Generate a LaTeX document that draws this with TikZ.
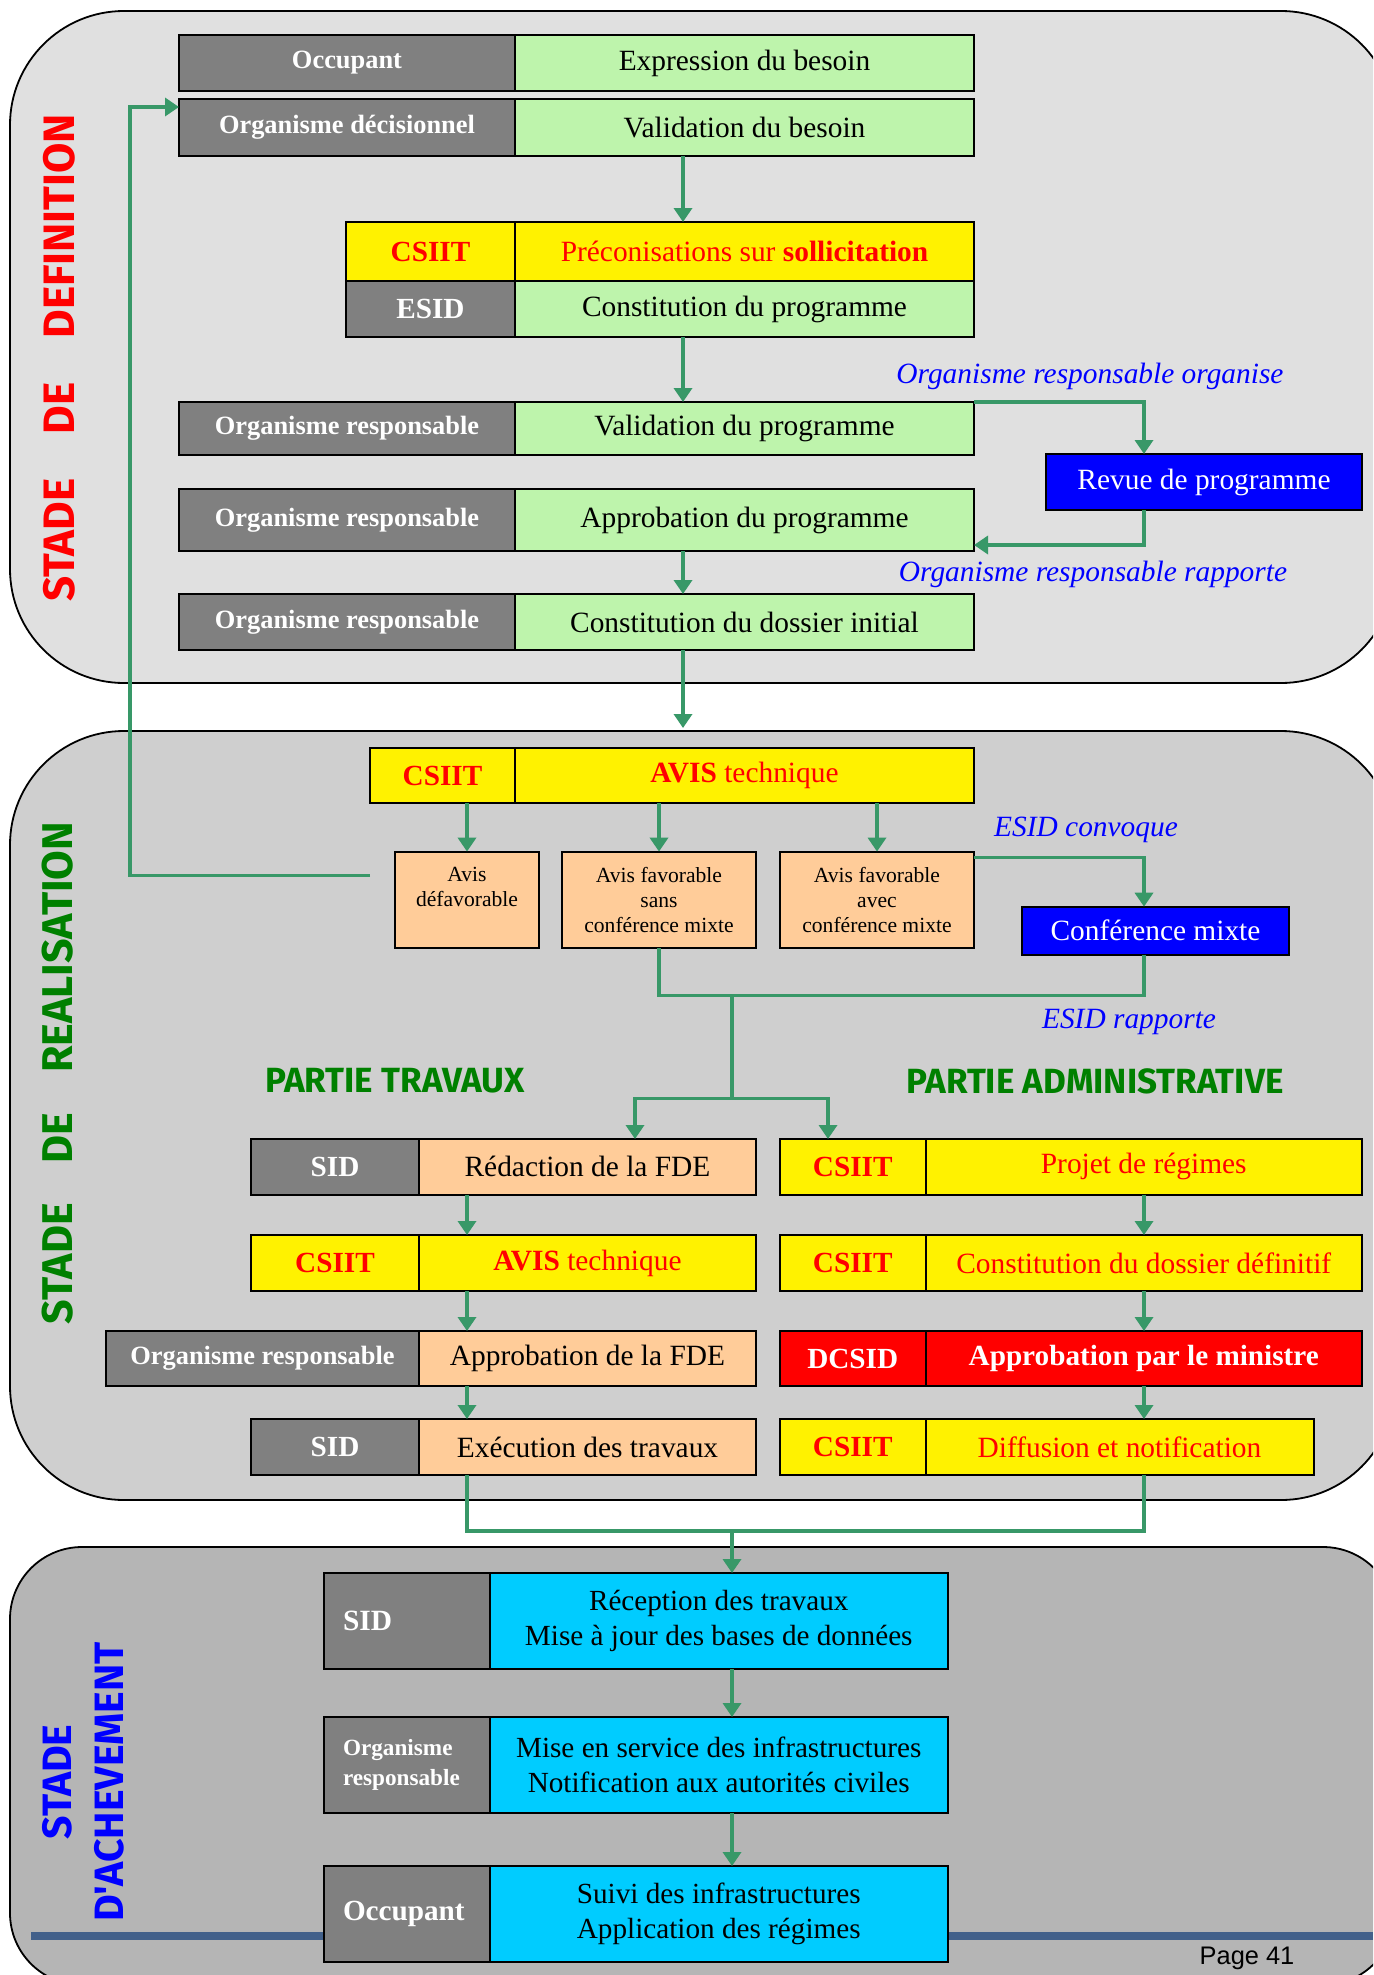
\documentclass[tikz,border=0pt]{standalone}
\usepackage{fontspec}
\setmainfont{Liberation Serif}
\newfontfamily\comic{Fira Sans}
\newfontfamily\arial{Liberation Sans}
\usepackage{xcolor}
\usepackage{tikz}
\usetikzlibrary{arrows.meta}
\usetikzlibrary{calc}
\usetikzlibrary{positioning}
\definecolor{panelA}{RGB}{224,224,224}
\definecolor{panelB}{RGB}{207,207,207}
\definecolor{panelC}{RGB}{181,181,181}
\definecolor{boxgray}{RGB}{128,128,128}
\definecolor{lgreen}{RGB}{190,244,172}
\definecolor{peach}{RGB}{255,204,153}
\definecolor{cyanbox}{RGB}{0,204,255}
\definecolor{arrowgreen}{RGB}{56,152,104}
\definecolor{dgreen}{RGB}{0,128,0}
\definecolor{footer}{RGB}{66,96,138}
\newcommand\sz[2]{\fontsize{#1}{#2}\selectfont}
\tikzstyle{cell}=[draw=black,line width=1pt,inner sep=1pt,outer sep=0pt,align=center,anchor=north west]
\tikzstyle{who}=[cell,fill=boxgray,text=white,font=\bfseries\sz{13.2}{15}]
\tikzstyle{whobig}=[who,font=\bfseries\sz{14.6}{17}]
\tikzstyle{csiit}=[cell,fill=yellow,text=red,font=\bfseries\sz{14.6}{17}]
\tikzstyle{dcsid}=[csiit,fill=red,text=white]
\tikzstyle{job}=[cell,fill=lgreen,font=\sz{14.7}{17}]
\tikzstyle{jobyel}=[job,fill=yellow,text=red]
\tikzstyle{jobpch}=[job,fill=peach]
\tikzstyle{jobred}=[job,fill=red,text=white,font=\bfseries\sz{14.6}{17}]
\tikzstyle{jobblue}=[job,fill=blue,text=white]
\tikzstyle{jobcyan}=[job,fill=cyanbox,font=\sz{14.6}{17.5}]
\tikzstyle{avis}=[cell,fill=peach,font=\sz{10.8}{12.5}]
\tikzstyle{note}=[text=blue,font=\itshape\sz{14.7}{17}]
\tikzstyle{partie}=[text=dgreen,font=\comic\bfseries\sz{17.5}{20}]
\tikzstyle{panel}=[draw=black,line width=.9pt,rounded corners=57pt]
\tikzstyle{flow}=[draw=arrowgreen,line width=1.75pt,-{Triangle[length=7pt,width=9pt]}]
\tikzstyle{link}=[draw=arrowgreen,line width=1.75pt]
\begin{document}
\begin{tikzpicture}[x=0.5pt,y=-0.5pt]
\useasboundingbox (0,0) rectangle (1373,1975);
\clip (0,0) rectangle (1373,1975);
\fill[white] (0,0) rectangle (1373,1975);
\draw[panel,fill=panelA] (10,11) rectangle (1395,683);
\draw[panel,fill=panelB] (10,731) rectangle (1395,1500);
\draw[panel,fill=panelC,rounded corners=36pt] (10,1547) rectangle (1395,1985);
\draw[footer,line width=4pt] (31,1936) -- (1373,1936);
\node[rotate=90,text=red,font=\comic\bfseries\sz{22}{24}] (sdef) at (59,358) {STADE\hspace{22pt}DE\hspace{22pt}DEFINITION};
\node[rotate=90,text=dgreen,font=\comic\bfseries\sz{21.5}{24}] (sreal) at (58,1073) {STADE\hspace{20pt}DE\hspace{20pt}REALISATION};
\node[rotate=90,text=blue,align=center,font=\comic\bfseries\sz{20.5}{26}] (sach) at (83,1782) {STADE\\D'ACHEVEMENT};
\coordinate (axe) at (683,0);
\coordinate (adm) at (1144,0);
\coordinate (tr) at (467,0);
\coordinate (rail) at (130,0);
\coordinate (tx) at (635,0);
\coordinate (ax) at (828,0);
\coordinate (j1) at (732,995.5);
\coordinate (j2) at (732,1098.6);
\coordinate (j3) at (732,1531);
% stade de definition
\node[who,minimum width=168pt,minimum height=28pt] (l1) at (179,35) {Occupant};
\node[job,right=0pt of l1,minimum width=229.5pt,minimum height=28pt] (t1) {Expression du besoin};
\node[who,minimum width=168pt,minimum height=28.5pt] (l2) at (179,99) {Organisme décisionnel};
\node[job,right=0pt of l2,minimum width=229.5pt,minimum height=28.5pt] (t2) {Validation du besoin};
\node[csiit,minimum width=84.5pt,minimum height=29.5pt] (l3) at (346,222) {CSIIT};
\node[jobyel,right=0pt of l3,minimum width=229.5pt,minimum height=29.5pt] (t3) {Préconisations sur \textbf{sollicitation}};
\node[whobig,minimum width=84.5pt,minimum height=28pt] (l4) at (346,281) {ESID};
\node[job,right=0pt of l4,minimum width=229.5pt,minimum height=28pt] (t4) {Constitution du programme};
\node[who,minimum width=168pt,minimum height=26.5pt] (l5) at (179,402) {Organisme responsable};
\node[job,right=0pt of l5,minimum width=229.5pt,minimum height=26.5pt] (t5) {Validation du programme};
\node[who,minimum width=168pt,minimum height=31pt] (l6) at (179,489) {Organisme responsable};
\node[job,right=0pt of l6,minimum width=229.5pt,minimum height=31pt] (t6) {Approbation du programme};
\node[who,minimum width=168pt,minimum height=28pt] (l7) at (179,594) {Organisme responsable};
\node[job,right=0pt of l7,minimum width=229.5pt,minimum height=28pt] (t7) {Constitution du dossier initial};
\node[jobblue,minimum width=158pt,minimum height=28pt] (revue) at (1046,454) {Revue de programme};
\node[note] (n1) at (1090,376) {Organisme responsable organise};
\node[note] (n2) at (1093,574) {Organisme responsable rapporte};
\draw[flow] (t2.south -| axe) -- (t3.north -| axe);
\draw[flow] (t4.south -| axe) -- (t5.north -| axe);
\draw[flow] (t6.south -| axe) -- (t7.north -| axe);
\draw[flow] (t5.north east) -| (revue.north -| adm);
\draw[flow] (revue.south -| adm) |- ($(t6.south east)+(0,-6)$);
% stade de realisation
\node[csiit,minimum width=72.5pt,minimum height=27.5pt] (m0) at (370,748) {CSIIT};
\node[jobyel,right=0pt of m0,minimum width=229.5pt,minimum height=27.5pt] (mt0) {\textbf{AVIS} technique};
\draw[flow,shorten >=10pt] (t7.south -| axe) -- (mt0.north -| axe);
\node[avis,minimum width=72pt,minimum height=48pt] (def) at (395,851.6) {Avis\\défavorable\\\mbox{}};
\node[avis,minimum width=97pt,minimum height=48pt] (sans) at (562,851.6) {Avis favorable\\sans\\conférence mixte};
\node[avis,minimum width=97pt,minimum height=48pt] (avec) at (780,851.6) {Avis favorable\\avec\\conférence mixte};
\node[jobblue,minimum width=133.5pt,minimum height=24pt] (conf) at (1022,906.7) {Conférence mixte};
\node[note] (n3) at (1086,830) {ESID convoque};
\node[note] (n4) at (1129,1022) {ESID rapporte};
\coordinate (retour) at ($(def.north west)+(-25,24)$);
\draw[flow] (def.north |- mt0.south) -- (def.north);
\draw[flow] (sans.north |- mt0.south) -- (sans.north);
\draw[flow] (avec.north |- mt0.south) -- (avec.north);
\draw[flow] (retour) -- (retour -| rail) |- ($(l2.north west)+(0,8)$);
\draw[flow] ($(avec.north east)+(0,6)$) -| (conf.north -| adm);
\draw[link] (conf.south -| adm) |- (sans.south |- j1) -- (sans.south);
\draw[link] (j1) -- (j2);
\node[partie] (pt) at (395,1081) {PARTIE TRAVAUX};
\node[partie] (pa) at (1095,1081) {PARTIE ADMINISTRATIVE};
\node[whobig,minimum width=84pt,minimum height=27.75pt] (a1) at (251,1139) {SID};
\node[jobpch,right=0pt of a1,minimum width=168.5pt,minimum height=27.75pt] (at1) {Rédaction de la FDE};
\node[csiit,minimum width=84pt,minimum height=28pt] (a2) at (251,1235) {CSIIT};
\node[jobyel,right=0pt of a2,minimum width=168.5pt,minimum height=28pt] (at2) {\textbf{AVIS} technique};
\node[who,minimum width=156.5pt,minimum height=27.5pt] (a3) at (106,1331) {Organisme responsable};
\node[jobpch,right=0pt of a3,minimum width=168.5pt,minimum height=27.5pt] (at3) {Approbation de la FDE};
\node[whobig,minimum width=84pt,minimum height=28pt] (a4) at (251,1419) {SID};
\node[jobpch,right=0pt of a4,minimum width=168.5pt,minimum height=28pt] (at4) {Exécution des travaux};
\node[csiit,minimum width=72.75pt,minimum height=27.75pt] (b1) at (780,1139) {CSIIT};
\node[jobyel,right=0pt of b1,minimum width=218.25pt,minimum height=27.75pt] (bt1) {Projet de régimes};
\node[csiit,minimum width=72.75pt,minimum height=28pt] (b2) at (780,1235) {CSIIT};
\node[jobyel,right=0pt of b2,minimum width=218.25pt,minimum height=28pt] (bt2) {Constitution du dossier définitif};
\node[dcsid,minimum width=72.75pt,minimum height=27.5pt] (b3) at (780,1331) {DCSID};
\node[jobred,right=0pt of b3,minimum width=218.25pt,minimum height=27.5pt] (bt3) {Approbation par le ministre};
\node[csiit,minimum width=72.75pt,minimum height=28pt] (b4) at (780,1419) {CSIIT};
\node[jobyel,right=0pt of b4,minimum width=194pt,minimum height=28pt] (bt4) {Diffusion et notification};
\draw[flow] (j2) -| (at1.north -| tx);
\draw[flow] (j2) -| (b1.north -| ax);
\draw[flow] (at1.south -| tr) -- (at2.north -| tr);
\draw[flow] (at2.south -| tr) -- (at3.north -| tr);
\draw[flow] (at3.south -| tr) -- (at4.north -| tr);
\draw[flow] (bt1.south -| adm) -- (bt2.north -| adm);
\draw[flow] (bt2.south -| adm) -- (bt3.north -| adm);
\draw[flow] (bt3.south -| adm) -- (bt4.north -| adm);
% stade d'achevement
\node[who,font=\bfseries\sz{14.7}{17},text width=64pt,inner xsep=9.5pt,align=left,minimum height=48pt] (c1) at (324,1573) {SID};
\node[jobcyan,right=0pt of c1,minimum width=228.75pt,minimum height=48pt] (ct1) {Réception des travaux\\Mise à jour des bases de données};
\node[who,font=\bfseries\sz{11.6}{15},text width=64pt,inner xsep=9.5pt,align=left,minimum height=48pt] (c2) at (324,1717) {Organisme\\responsable};
\node[jobcyan,right=0pt of c2,minimum width=228.75pt,minimum height=48pt] (ct2) {Mise en service des infrastructures\\Notification aux autorités civiles};
\node[who,font=\bfseries\sz{14.6}{17},text width=64pt,inner xsep=9.5pt,align=left,minimum height=48pt] (c3) at (324,1866) {Occupant};
\node[jobcyan,right=0pt of c3,minimum width=228.75pt,minimum height=48pt] (ct3) {Suivi des infrastructures\\Application des régimes};
\draw[link] (at4.south -| tr) |- (j3) -| (bt4.south -| adm);
\draw[flow] (j3) -- (ct1.north -| j3);
\draw[flow] (ct1.south -| j3) -- (ct2.north -| j3);
\draw[flow] (ct2.south -| j3) -- (ct3.north -| j3);
\node[font=\arial\sz{12.7}{15}] (page) at (1247,1958) {Page 41};
\end{tikzpicture}
\end{document}
